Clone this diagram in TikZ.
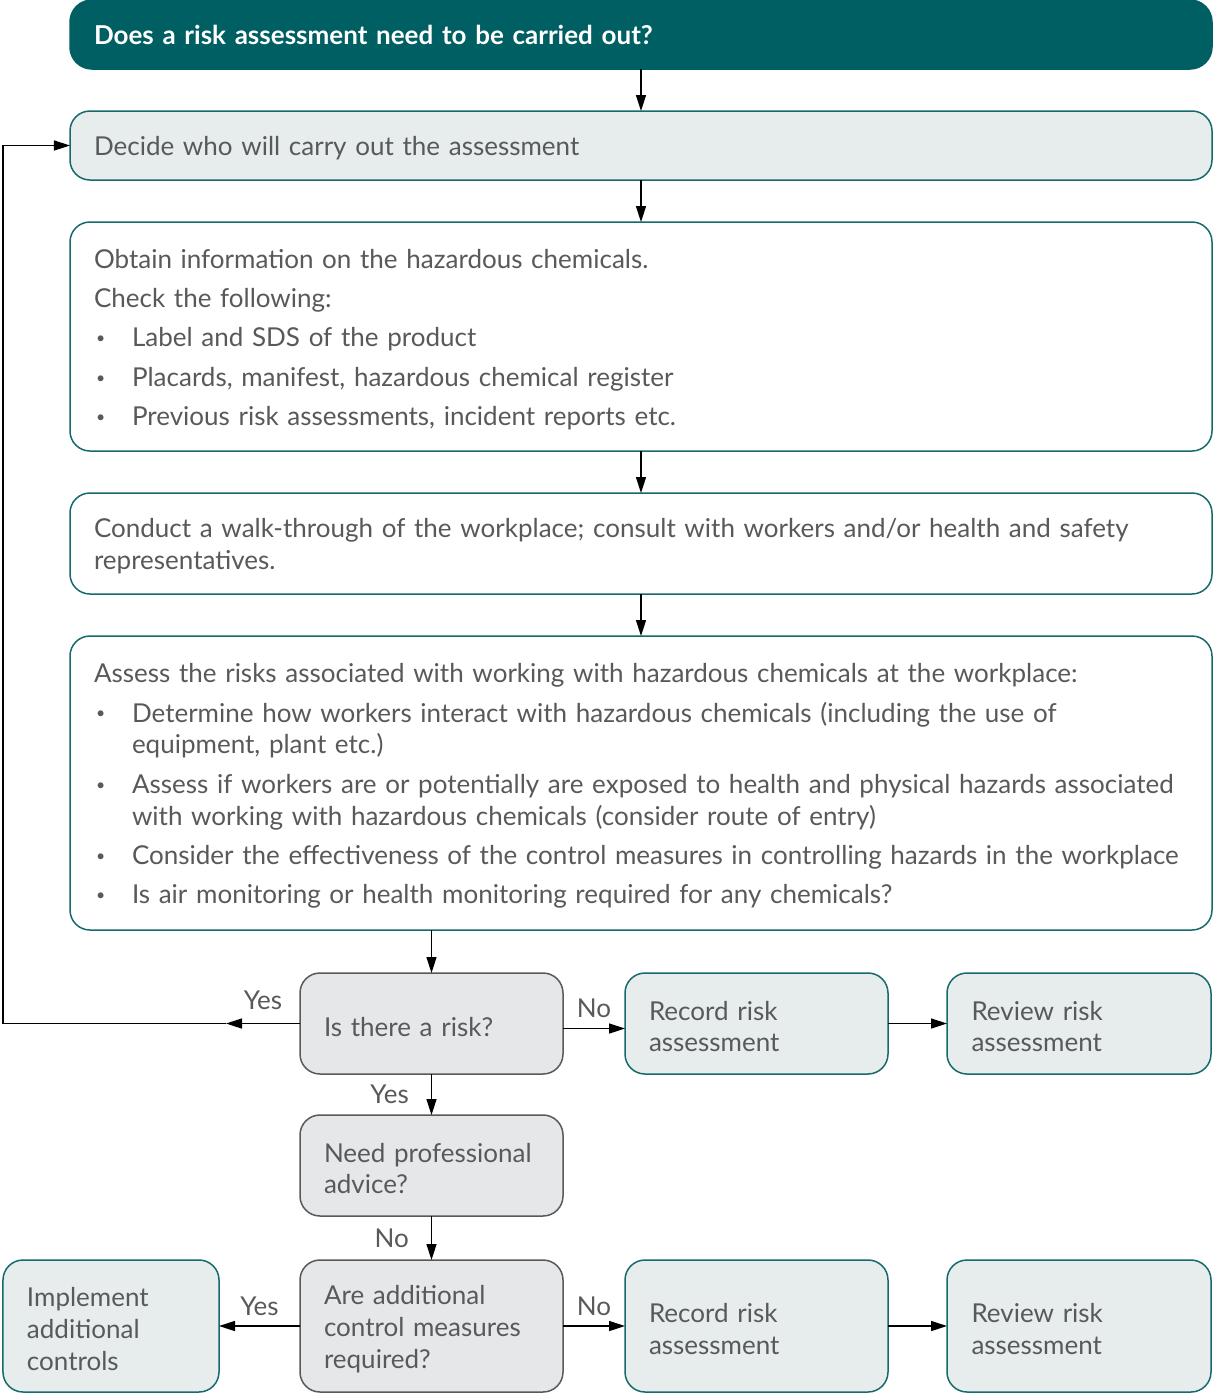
\documentclass[tikz,border=0pt]{standalone}
\usepackage{fontspec}
\setmainfont{Lato}
\usetikzlibrary{positioning, arrows.meta}
\definecolor{tealdark}{HTML}{005F63}
\definecolor{tealline}{HTML}{17696D}
\definecolor{palefill}{HTML}{E7ECEC}
\definecolor{greyfill}{HTML}{E6E7E8}
\definecolor{greyline}{HTML}{58595B}
\definecolor{textgrey}{HTML}{58595B}
\newcommand{\itm}{\makebox[0.76cm][l]{\hspace{0.04cm}\raisebox{0.12em}{\fontsize{9pt}{9pt}\selectfont\textbullet}}}

\begin{document}
\begin{tikzpicture}
[
    node distance=0.84cm, text=textgrey, font=\fontsize{14.8pt}{18.1pt}\selectfont,
    base_box/.style={rectangle, rounded corners=0.4cm, fill=palefill, draw=tealline, line width=0.03cm, outer sep=0pt, align=left, inner xsep=0.48cm, minimum width=22.84cm, text width=21.88cm},
    pale_box/.style={base_box, execute at begin node={\rule{0pt}{0.97em}}},
    head_box/.style={base_box, rounded corners=0.44cm, fill=tealdark, draw=tealdark, text=white, font=\fontsize{14.8pt}{18.1pt}\selectfont\bfseries, minimum height=1.38cm},
    white_box/.style={pale_box, fill=white},
    small_box/.style={pale_box, minimum width=5.26cm, text width=4.30cm},
    ask_box/.style={small_box, fill=greyfill, draw=greyline},
    flow/.style={-{Triangle[length=0.32cm, width=0.2cm]}, line width=0.03cm, draw=black},
    yes_no/.style={above=0.2cm, inner sep=0pt},
]
    \useasboundingbox (0,0) rectangle (24.24,-27.88);
    \node[head_box, anchor=north west] (ask) at (1.4,0) {Does a risk assessment need to be carried out?};
    \node[pale_box, minimum height=1.38cm] (who) [below = of ask] {Decide who will carry out the assessment};
    \node[white_box, minimum height=4.58cm] (info) [below = of who] {Obtain information on the hazardous chemicals.\\[4.3pt]
        Check the following:\\[4.3pt]
        \itm Label and SDS of the product\\[4.3pt]
        \itm Placards, manifest, hazardous chemical register\\[4.3pt]
        \itm Previous risk assessments, incident reports etc.};
    \node[white_box, minimum height=2.02cm] (walk) [below = of info] {Conduct a walk-through of the workplace; consult with workers and/or health and safety\\
        representatives.};
    \node[white_box, minimum height=5.88cm] (assess) [below = of walk] {Assess the risks associated with working with hazardous chemicals at the workplace:\\[4.3pt]
        \itm Determine how workers interact with hazardous chemicals (including the use of\\
        \hspace*{0.76cm}equipment, plant etc.)\\[4.3pt]
        \itm Assess if workers are or potentially are exposed to health and physical hazards associated\\
        \hspace*{0.76cm}with working with hazardous chemicals (consider route of entry)\\[4.3pt]
        \itm Consider the effectiveness of the control measures in controlling hazards in the workplace\\[4.3pt]
        \itm Is air monitoring or health monitoring required for any chemicals?};
    \node[ask_box, minimum height=2.02cm] (risk) [below right = 0.86cm and 4.6cm of assess.south west] {Is there a risk?};
    \node[small_box, minimum height=2.02cm] (recA) [right = 1.24cm of risk] {Record risk\\ assessment};
    \node[small_box, minimum height=2.02cm, minimum width=5.28cm] (revA) [right = 1.18cm of recA] {Review risk\\ assessment};
    \node[ask_box, minimum height=2.02cm] (advice) [below = 0.82cm of risk] {Need professional\\ advice?};
    \node[ask_box, minimum height=2.64cm] (extra) [below = 0.88cm of advice] {Are additional\\ control measures\\ required?};
    \node[small_box, minimum height=2.64cm] (recB) [right = 1.24cm of extra] {Record risk\\ assessment};
    \node[small_box, minimum height=2.64cm, minimum width=5.28cm] (revB) [right = 1.18cm of recB] {Review risk\\ assessment};
    \node[small_box, minimum height=2.64cm, minimum width=4.32cm, text width=3.36cm] (impl) [left = 1.62cm of extra] {Implement\\ additional\\ controls};
    \coordinate[left = 1.48cm of risk.west] (back);
    \draw[flow] (ask) -- (who);
    \draw[flow] (who) -- (info);
    \draw[flow] (info) -- (walk);
    \draw[flow] (walk) -- (assess);
    \draw[flow] (assess.south -| risk.north) -- (risk.north);
    \draw[flow] (risk.west) -- node[yes_no, yshift=0.06cm] {Yes} (back);
    \draw[flow] (back) -| ([xshift=-1.34cm]who.west) -- (who.west);
    \draw[flow] ([yshift=-0.1cm]risk.east) -- node[yes_no] {No} ([yshift=-0.1cm]recA.west);
    \draw[flow] (recA) -- (revA);
    \draw[flow] (risk) -- node[left=0.44cm, inner sep=0pt] {Yes} (advice);
    \draw[flow] (advice) -- node[left=0.44cm, inner sep=0pt] {No} (extra);
    \draw[flow] (extra) -- node[yes_no] {Yes} (impl);
    \draw[flow] (extra) -- node[yes_no] {No} (recB);
    \draw[flow] (recB) -- (revB);
\end{tikzpicture}
\end{document}
